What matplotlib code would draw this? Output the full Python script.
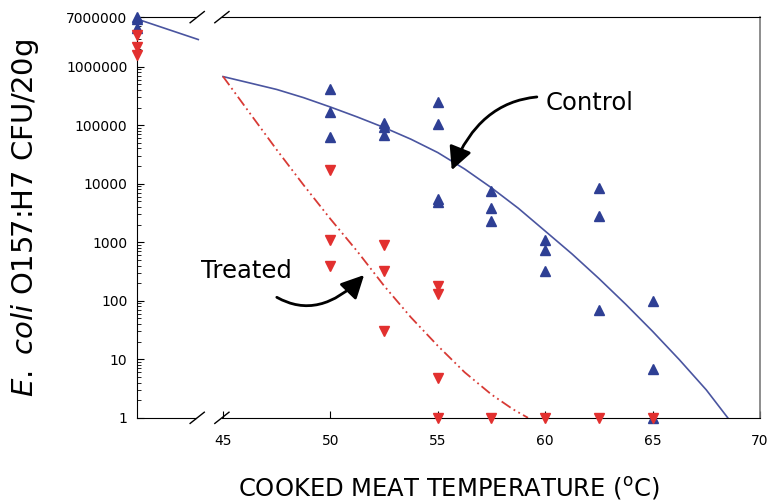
import matplotlib.pyplot as plt
from matplotlib.patches import Rectangle

# raw meat (plotted at the left edge, before the axis break)
raw_x = 41.0
raw_control = [7000000, 6500000, 4500000]
raw_treated = [3500000, 2200000, 1600000]
raw_line_x = [41.0, 43.85]
raw_line_y = [6500000, 2900000]

# cooked meat, control (up triangles)
control_x = [50, 50, 50,
             52.5, 52.5, 52.5,
             55, 55, 55, 55,
             57.5, 57.5, 57.5,
             60, 60, 60,
             62.5, 62.5, 62.5,
             65, 65, 65]
control_y = [420000, 166000, 62000,
             110000, 93000, 67000,
             250000, 104000, 5500, 4800,
             7600, 3900, 2300,
             1080, 730, 316,
             8500, 2800, 70,
             100, 6.7, 1]

# cooked meat, treated (down triangles)
treated_x = [50, 50, 50,
             52.5, 52.5, 52.5,
             55, 55, 55, 55,
             57.5, 60, 62.5, 65]
treated_y = [17000, 1070, 400,
             890, 316, 30,
             180, 132, 4.7, 1,
             1, 1, 1, 1]

# fitted curves
control_fit_x = [45, 46.25, 47.5, 48.75, 50, 51.25, 52.5, 53.75, 55, 56.25,
                 57.5, 58.75, 60, 61.25, 62.5, 63.75, 65, 66.25, 67.5, 68.5]
control_fit_y = [676000, 525000, 407000, 295000, 204000, 138000, 91000, 57500, 34000, 17800,
                 8500, 3800, 1550, 630, 240, 87, 30, 9.8, 3, 1]
treated_fit_x = [45, 46.25, 47.5, 48.75, 50, 51.25, 52.5, 53.75, 55, 56.25, 57.5, 58.5, 59.2]
treated_fit_y = [680000, 160000, 38000, 9500, 2500, 700, 180, 52, 17, 6, 2.5, 1.4, 1]

y_ticks = [1, 10, 100, 1000, 10000, 100000, 1000000, 7000000]
x_ticks = [45, 50, 55, 60, 65, 70]

blue = '#2e3f94'
red = '#e2302f'

fig = plt.figure(figsize=(7.7, 5.04), dpi=100)
ax = fig.add_axes([0.178, 0.171, 0.809, 0.795])

ax.plot(raw_line_x, raw_line_y, color='#4a55a0', lw=1.2)
ax.plot(control_fit_x, control_fit_y, color='#4a55a0', lw=1.2)
ax.plot(treated_fit_x, treated_fit_y, color='#d83a35', lw=1.3,
        linestyle=(0, (6, 2, 1, 2, 1, 2)))

ax.plot([raw_x] * len(raw_control), raw_control, '^', color=blue, ms=7, clip_on=False, zorder=5)
ax.plot([raw_x] * len(raw_treated), raw_treated, 'v', color=red, ms=7, clip_on=False, zorder=5)
ax.plot(control_x, control_y, '^', color=blue, ms=7, clip_on=False, zorder=5)
ax.plot(treated_x, treated_y, 'v', color=red, ms=7, clip_on=False, zorder=6)

ax.set_yscale('log')
ax.set_ylim(1, 7000000)
ax.set_xlim(41, 70)
ax.set_yticks(y_ticks)
ax.set_yticklabels([str(t) for t in y_ticks], fontsize=10)
ax.set_xticks(x_ticks)
ax.set_xticklabels([str(t) for t in x_ticks], fontsize=10)
ax.tick_params(which='both', direction='in')
ax.tick_params(axis='x', length=5, pad=12)
ax.tick_params(axis='y', which='major', length=5, pad=7)
ax.tick_params(axis='y', which='minor', length=3)
ax.tick_params(axis='x', which='minor', bottom=False)

for s in ['left', 'bottom', 'top']:
    ax.spines[s].set_color('black')
ax.spines['right'].set_color('#7a7a7a')
ax.spines['right'].set_linewidth(1.2)

# axis break
for y0 in (0, 1):
    ax.add_patch(Rectangle((43.8, y0 - 0.01), 1.15, 0.02, transform=ax.get_xaxis_transform(),
                           facecolor='white', edgecolor='none', clip_on=False, zorder=4))
    for xb in (43.8, 44.95):
        ax.plot([xb - 0.33, xb + 0.33], [y0 - 0.014, y0 + 0.014], color='black', lw=1,
                transform=ax.get_xaxis_transform(), clip_on=False, zorder=5)

ax.set_xlabel('COOKED MEAT TEMPERATURE ($^{\\mathrm{o}}$C)', fontsize=17.5, labelpad=19)
ax.set_ylabel('$\\it{E.\\ coli}$ O157:H7 CFU/20g', fontsize=21, labelpad=18)

ax.annotate('Control', xy=(55.65, 17000), xytext=(60.0, 240000), fontsize=17.5,
            va='center', ha='left',
            arrowprops=dict(arrowstyle='-|>,head_length=0.8,head_width=0.4', color='black',
                            lw=2, connectionstyle='arc3,rad=0.45', shrinkA=4, shrinkB=0))
ax.annotate('Treated', xy=(51.57, 275), xytext=(46.1, 320), fontsize=17.5,
            va='center', ha='center',
            arrowprops=dict(arrowstyle='-|>,head_length=0.8,head_width=0.4', color='black',
                            lw=2, connectionstyle='arc3,rad=0.55', shrinkA=14, shrinkB=0))

fig.savefig('out.png', dpi=100)
